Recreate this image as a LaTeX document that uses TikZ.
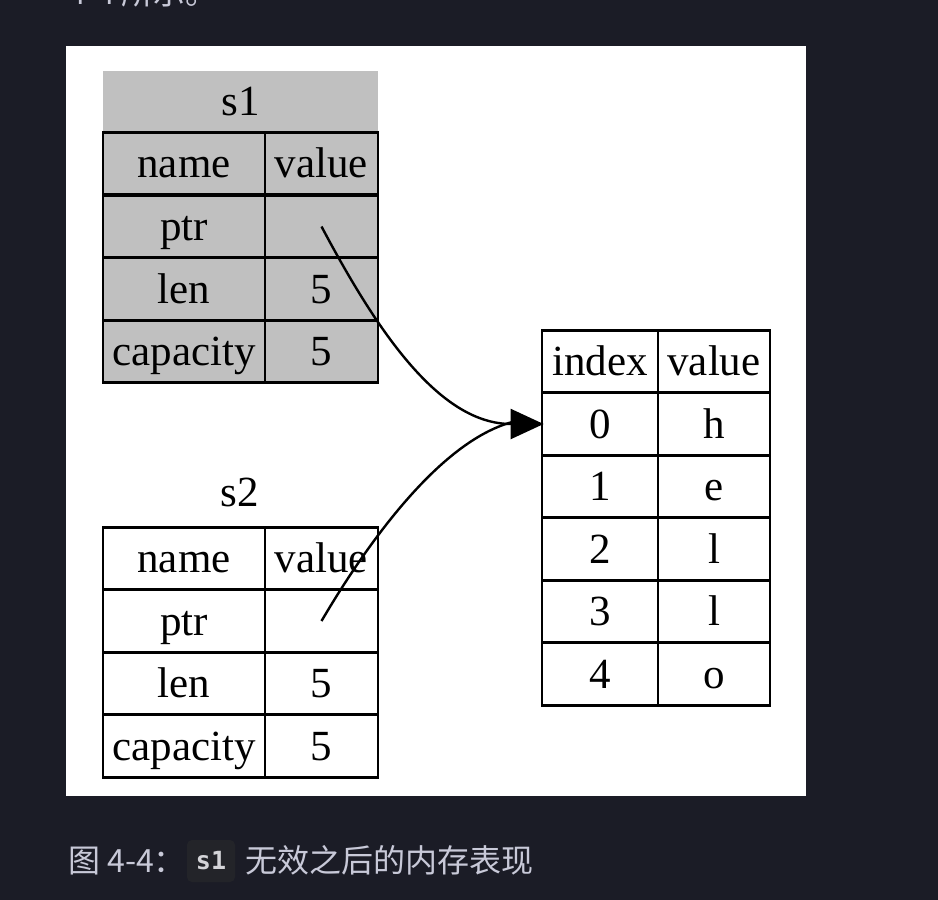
\documentclass[tikz,border=0pt]{standalone}
\usepackage{fontspec}
\setmainfont{Liberation Serif}
\newfontfamily\cjkfont{Noto Sans CJK SC}
\newfontfamily\codefont{DejaVu Sans Mono}
\usetikzlibrary{arrows.meta}
\definecolor{pagebg}{RGB}{27,28,38}
\definecolor{tablegray}{RGB}{192,192,192}
\definecolor{captext}{RGB}{200,201,216}
\definecolor{codebg}{RGB}{35,36,41}
\definecolor{codetext}{RGB}{212,212,216}
\tikzset{
  cell/.style={draw=black, line width=2.8pt, inner sep=0pt, anchor=center,
    font=\fontsize{43}{50}\selectfont, text height=28pt, text depth=0pt,
    minimum height=62.7pt},
  graycell/.style={cell, fill=tablegray},
  namecol/.style={minimum width=162pt},
  valcol/.style={minimum width=113pt},
  idxcol/.style={minimum width=116pt},
  hvalcol/.style={minimum width=112pt},
  plainlabel/.style={inner sep=0pt, anchor=center,
    font=\fontsize{43}{50}\selectfont, text height=28pt, text depth=0pt},
  pointerline/.style={line width=2.4pt},
  pointer/.style={pointerline, -{Triangle[length=33pt,width=30pt]}},
  captionstyle/.style={inner sep=0pt, anchor=base west, text=captext,
    font=\cjkfont\fontsize{32}{36}\selectfont}
}
\begin{document}
\begin{tikzpicture}[x=1pt,y=-1pt]
\fill[pagebg] (0,0) rectangle (938,900);
\useasboundingbox (0,0) rectangle (938,900);
\fill[white] (66,46) rectangle (806,796);

% top line, cut off at the upper edge as in the reference
\node[captionstyle] (toptext) at (68,4) {4-4 所示。};

% s1 table (gray)
\node[plainlabel, fill=tablegray, minimum width=275pt, minimum height=61pt] (s1h) at (240.5,101.5) {s1};
\node[graycell, namecol] (s1n0) at (184,163.5) {name};
\node[graycell, valcol]  (s1v0) at (321.5,163.5) {value};
\node[graycell, namecol] (s1n1) at (184,226.5) {ptr};
\node[graycell, valcol]  (s1v1) at (321.5,226.5) {};
\node[graycell, namecol] (s1n2) at (184,289) {len};
\node[graycell, valcol]  (s1v2) at (321.5,289) {5};
\node[graycell, namecol] (s1n3) at (184,351.5) {capacity};
\node[graycell, valcol]  (s1v3) at (321.5,351.5) {5};

% s2 table
\node[plainlabel] (s2h) at (240,492) {s2};
\node[cell, namecol] (s2n0) at (184,558.5) {name};
\node[cell, valcol]  (s2v0) at (321.5,558.5) {value};
\node[cell, namecol] (s2n1) at (184,621) {ptr};
\node[cell, valcol]  (s2v1) at (321.5,621) {};
\node[cell, namecol] (s2n2) at (184,683.5) {len};
\node[cell, valcol]  (s2v2) at (321.5,683.5) {5};
\node[cell, namecol] (s2n3) at (184,746) {capacity};
\node[cell, valcol]  (s2v3) at (321.5,746) {5};

% heap table
\node[cell, idxcol]  (hi) at (600,361.5) {index};
\node[cell, hvalcol] (hv) at (714,361.5) {value};
\node[cell, idxcol]  (h0) at (600,424) {0};
\node[cell, hvalcol] (v0) at (714,424) {h};
\node[cell, idxcol]  (h1) at (600,486.5) {1};
\node[cell, hvalcol] (v1) at (714,486.5) {e};
\node[cell, idxcol]  (h2) at (600,549) {2};
\node[cell, hvalcol] (v2) at (714,549) {l};
\node[cell, idxcol]  (h3) at (600,611.5) {3};
\node[cell, hvalcol] (v3) at (714,611.5) {l};
\node[cell, idxcol]  (h4) at (600,674) {4};
\node[cell, hvalcol] (v4) at (714,674) {o};

% pointers
\coordinate (tip) at ([xshift=3pt]h0.west);
\coordinate (tipbase) at ([xshift=-22pt,yshift=4pt]tip);
\draw[pointer] (s1v1.center) .. controls (378,333) and (440,424) .. (tip);
\draw[pointerline] (s2v1.center) .. controls (375,530) and (450,432) .. (tipbase);

% caption
\node[captionstyle] (cap1) at (68,872) {图 4-4：};
\node[fill=codebg, rounded corners=5pt, minimum width=48pt, minimum height=42pt,
  inner sep=0pt, text=codetext, font=\codefont\bfseries\fontsize{25}{28}\selectfont] (capcode) at (211,861) {s1};
\node[captionstyle] (cap2) at (245,872) {无效之后的内存表现};
\end{tikzpicture}
\end{document}
